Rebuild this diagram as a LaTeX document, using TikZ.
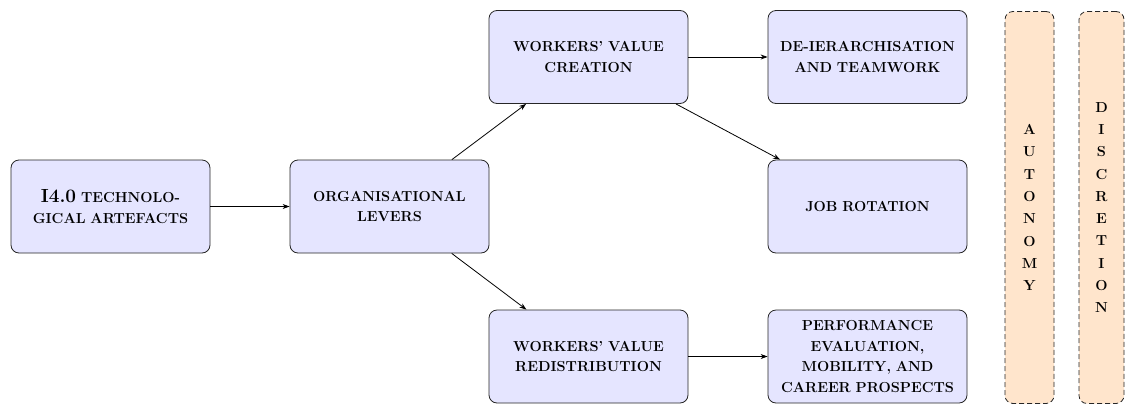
\documentclass[tikz,border=0pt]{standalone}
\usetikzlibrary{arrows.meta}
\begin{document}
\begin{tikzpicture}[x=1pt,y=-1pt,
  box/.style={draw=black!85, line width=0.8pt, fill=blue!10, rounded corners=8pt, minimum width=199pt, minimum height=93pt,
    align=center, inner sep=2pt, text width=190pt, font=\fontsize{14.5}{20.5}\selectfont\bfseries},
  band/.style={draw=black!85, line width=0.8pt, dash pattern=on 5pt off 3pt, fill=orange!20, rounded corners=8pt, minimum height=392pt,
    align=center, inner sep=0pt, font=\fontsize{14.5}{22.3}\selectfont\bfseries},
  conn/.style={draw=black, line width=0.8pt, -{Stealth[length=7pt,width=5pt]}}]
\useasboundingbox (0,0) rectangle (1125,405);
\node[box] (art) at (110.5,206.5) {{\fontsize{19}{20.5}\selectfont I4.0} TECHNOLO-\\GICAL ARTEFACTS};
\node[box] (org) at (389.5,206.5) {ORGANISATIONAL\\LEVERS};
\node[box] (wvc) at (588.5,57) {WORKERS' VALUE\\CREATION};
\node[box] (wvr) at (588.5,356.5) {WORKERS' VALUE\\REDISTRIBUTION};
\node[box] (dei) at (867.5,57) {DE-IERARCHISATION\\AND TEAMWORK};
\node[box] (job) at (867.5,206.5) {JOB ROTATION};
\node[box] (perf) at (867.5,356.5) {PERFORMANCE\\EVALUATION,\\MOBILITY, AND\\CAREER PROSPECTS};
\node[band, minimum width=49pt] (aut) at (1029.5,207.5) {A\\U\\T\\O\\N\\O\\M\\Y};
\node[band, minimum width=45pt] (dis) at (1101.5,207.5) {D\\I\\S\\C\\R\\E\\T\\I\\O\\N};
\draw[conn] (art) -- (org);
\draw[conn] (org) -- (wvc);
\draw[conn] (org) -- (wvr);
\draw[conn] (wvc) -- (dei);
\draw[conn] (wvc) -- (job);
\draw[conn] (wvr) -- (perf);
\end{tikzpicture}
\end{document}
